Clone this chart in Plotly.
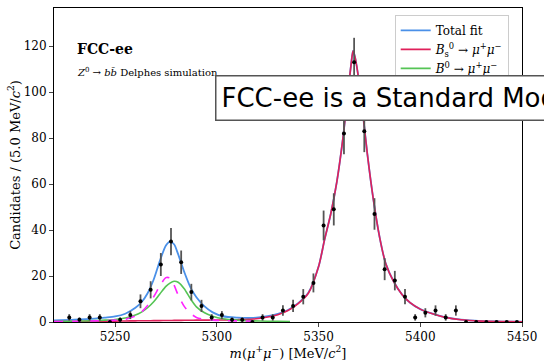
import plotly.graph_objects as go

# ---- data ----
bin_centers = [5227.5, 5232.5, 5237.5, 5242.5, 5247.5, 5252.5, 5257.5, 5262.5, 5267.5,
               5272.5, 5277.5, 5282.5, 5287.5, 5292.5, 5297.5, 5302.5, 5307.5, 5312.5,
               5317.5, 5322.5, 5327.5, 5332.5, 5337.5, 5342.5, 5347.5, 5352.5, 5357.5,
               5362.5, 5367.5, 5372.5, 5377.5, 5382.5, 5387.5, 5392.5, 5397.5, 5402.5,
               5407.5, 5412.5, 5417.5, 5422.5, 5427.5, 5432.5, 5437.5, 5442.5, 5447.5]
counts = [2, 1, 2, 2, 0, 1, 3, 9, 14,
          25, 35, 26, 13, 7, 2, 3, 1, 1,
          0, 2, 2, 5, 7, 11, 17, 42, 49,
          82, 113, 83, 47, 23, 18, 11, 2, 4,
          5, 2, 5, 0, 0, 0, 0, 0, 0]
count_errors = [1.41, 1.0, 1.41, 1.41, 0, 1.0, 1.73, 3.0, 3.74,
                5.0, 5.92, 5.1, 3.61, 2.65, 1.41, 1.73, 1.0, 1.0,
                0, 1.41, 1.41, 2.24, 2.65, 3.32, 4.12, 6.48, 7.0,
                9.06, 10.63, 9.11, 6.86, 4.8, 4.24, 3.32, 1.41, 2.0,
                2.24, 1.41, 2.24, 0, 0, 0, 0, 0, 0]

fit_x = [5220, 5230, 5240, 5245, 5250, 5255, 5260, 5263, 5266, 5269, 5272, 5275, 5277,
         5279, 5281, 5284, 5287, 5290, 5294, 5298, 5303, 5310, 5318, 5325, 5330, 5335,
         5340, 5345, 5350, 5353, 5356, 5359, 5362, 5364, 5366, 5367, 5368, 5370, 5372,
         5374, 5377, 5380, 5383, 5387, 5391, 5395, 5400, 5406, 5412, 5420, 5430, 5440, 5450]
total_fit = [0.7, 1.0, 1.5, 1.9, 2.4, 3.6, 6.2, 8.6, 12.5, 18.5, 26.5, 33.3, 35.0,
             33.8, 29.5, 21.8, 15.2, 10.8, 6.8, 4.2, 2.5, 1.9, 1.8, 2.5, 3.5, 5.2,
             8.2, 12.7, 24.0, 36.0, 47.0, 61.0, 80.0, 96.0, 112.0, 118.0, 115.0, 104.0, 89.0,
             73.0, 53.0, 37.0, 25.5, 17.5, 12.0, 8.4, 5.6, 3.6, 2.1, 1.0, 0.4, 0.2, 0.1]
bs_fit = [0.2, 0.25, 0.3, 0.35, 0.4, 0.45, 0.5, 0.55, 0.55, 0.6, 0.6, 0.65, 0.65,
          0.7, 0.7, 0.75, 0.75, 0.8, 0.8, 0.85, 0.9, 1.0, 1.3, 2.2, 3.2, 5.0,
          8.0, 12.5, 24.0, 36.0, 47.0, 61.0, 80.0, 96.0, 112.0, 118.0, 115.0, 104.0, 89.0,
          73.0, 53.0, 37.0, 25.5, 17.5, 12.0, 8.4, 5.6, 3.6, 2.1, 1.0, 0.4, 0.2, 0.1]
b0_x = [5220, 5230, 5240, 5245, 5250, 5255, 5260, 5263, 5266, 5269, 5272, 5275, 5277,
        5279, 5281, 5284, 5287, 5290, 5294, 5298, 5303, 5310, 5318, 5325, 5330, 5336]
b0_fit = [0.2, 0.35, 0.6, 0.8, 1.1, 1.7, 3.0, 4.3, 6.2, 8.8, 12.2, 15.5, 16.9,
          17.7, 17.3, 14.5, 10.2, 6.6, 4.0, 2.5, 1.4, 0.8, 0.5, 0.35, 0.3, 0.25]
other_x = [5220, 5230, 5240, 5245, 5250, 5255, 5260, 5263, 5266, 5269, 5272, 5275, 5277,
           5279, 5281, 5284, 5287, 5290, 5294, 5298, 5303, 5310, 5318]
other_fit = [0.2, 0.3, 0.5, 0.6, 0.8, 1.2, 2.6, 4.4, 7.2, 11.0, 15.6, 19.3, 19.1,
             16.0, 11.8, 6.8, 3.8, 2.0, 1.1, 0.8, 0.6, 0.5, 0.4]

x_ticks = [5250, 5300, 5350, 5400, 5450]
y_ticks = [0, 20, 40, 60, 80, 100, 120]

SERIF = "DejaVu Serif"

fig = go.Figure()
fig.add_trace(go.Scatter(x=fit_x, y=total_fit, mode="lines", name="Total fit",
                         line=dict(color="#4a90e8", width=1.8, shape="spline", smoothing=0.8)))
fig.add_trace(go.Scatter(x=fit_x, y=bs_fit, mode="lines",
                         name="<i>B</i><sub>s</sub><sup>0</sup> → <i>μ</i><sup>+</sup><i>μ</i><sup>−</sup>",
                         line=dict(color="#e0205a", width=1.6, shape="spline", smoothing=0.8)))
fig.add_trace(go.Scatter(x=b0_x, y=b0_fit, mode="lines",
                         name="<i>B</i><sup>0</sup> → <i>μ</i><sup>+</sup><i>μ</i><sup>−</sup>",
                         line=dict(color="#55c455", width=1.6, shape="spline", smoothing=0.8)))
fig.add_trace(go.Scatter(x=other_x, y=other_fit, mode="lines", showlegend=False,
                         line=dict(color="#ff22ff", width=1.6, dash="dash", shape="spline", smoothing=0.8)))
fig.add_trace(go.Scatter(x=bin_centers, y=counts, mode="markers", showlegend=False,
                         marker=dict(color="black", size=4),
                         error_y=dict(type="data", array=count_errors, visible=True,
                                      color="#555555", thickness=1.8, width=0)))

fig.update_layout(
    width=544, height=363,
    margin=dict(l=54, r=15, t=7, b=39),
    paper_bgcolor="white", plot_bgcolor="white",
    font=dict(family=SERIF, size=12, color="black"),
    showlegend=True,
    legend=dict(x=0.728, y=0.978, xanchor="left", yanchor="top",
                bgcolor="white", bordercolor="#cccccc", borderwidth=1,
                font=dict(family=SERIF, size=12), tracegroupgap=0, itemwidth=30),
    xaxis=dict(range=[5220, 5450], tickvals=x_ticks, ticks="outside", ticklen=4,
               showline=True, mirror=True, linecolor="black", linewidth=1,
               ticklabeloverflow="allow",
               showgrid=False, zeroline=False, tickfont=dict(family=SERIF, size=12),
               title=dict(text="<i>m</i>(<i>μ</i><sup>+</sup><i>μ</i><sup>−</sup>) [MeV/<i>c</i><sup>2</sup>]",
                          font=dict(family=SERIF, size=13), standoff=2)),
    yaxis=dict(range=[0, 136.6], tickvals=y_ticks, ticks="outside", ticklen=4,
               showline=True, mirror=True, linecolor="black", linewidth=1,
               showgrid=False, zeroline=False, tickfont=dict(family=SERIF, size=12),
               title=dict(text="Candidates / (5.0 MeV/<i>c</i><sup>2</sup>)",
                          font=dict(family=SERIF, size=13), standoff=0)),
)

fig.add_annotation(xref="paper", yref="paper", x=0.044, y=0.87, xanchor="left", yanchor="middle",
                   text="<b>FCC-ee</b>", showarrow=False, font=dict(family=SERIF, size=14))
fig.add_annotation(xref="paper", yref="paper", x=0.044, y=0.795, xanchor="left", yanchor="middle",
                   text="<i>Z</i><sup>0</sup> → <i>b</i><i>b̄</i> Delphes simulation",
                   showarrow=False, font=dict(family=SERIF, size=10))

fig.add_annotation(xref="paper", yref="paper", x=0.3432, y=0.712, xanchor="left", yanchor="middle",
                   text="FCC-ee is a Standard Model factory", showarrow=False, align="left",
                   width=640, height=33, valign="middle",
                   font=dict(family="DejaVu Sans", size=26, color="black"),
                   bgcolor="white", bordercolor="#555555", borderwidth=1.5, borderpad=5)

fig.write_html("out.html", config={"displayModeBar": False, "staticPlot": True},
               post_script="document.body.style.margin='0';document.body.style.overflow='hidden';")
